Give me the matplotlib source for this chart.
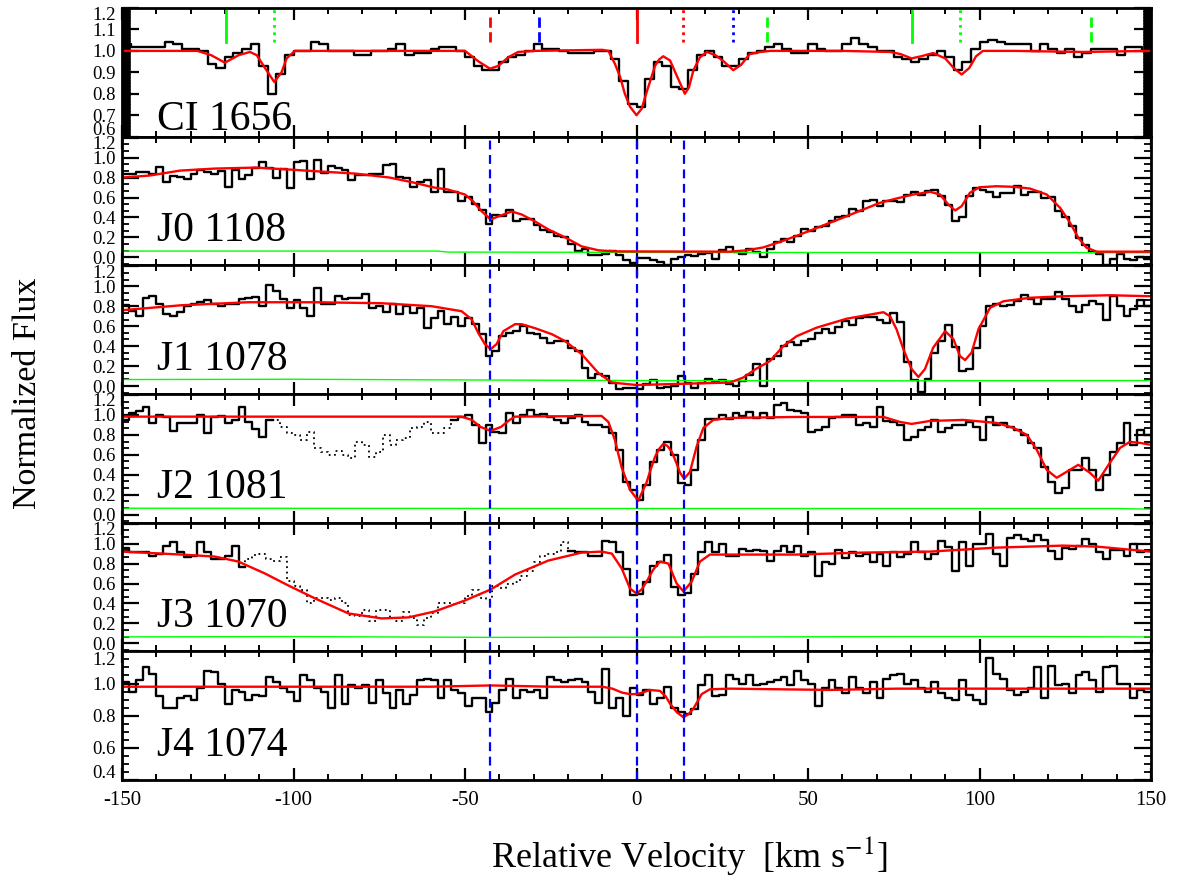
import numpy as np
import matplotlib
matplotlib.use('Agg')
import matplotlib.pyplot as plt
from matplotlib.ticker import MultipleLocator, AutoMinorLocator
from matplotlib.transforms import offset_copy

plt.rcParams['font.family'] = 'Liberation Serif'
plt.rcParams['mathtext.fontset'] = 'stix'
plt.rcParams['axes.unicode_minus'] = False

# velocity bin edges (km/s)
ci_edges = np.arange(-150, 150.01, 2.5)
h2_edges = np.arange(-150, 150.01, 2.0)

# ---- CI 1656 ----
ci_flux = [1.03, 1.02, 1.02, 1.02, 1.02, 1.04, 1.03, 1.01, 1.01, 1.00,
           0.94, 0.92, 0.97, 0.99, 1.01, 1.03, 0.93, 0.80, 0.89, 0.98,
           1.00, 1.00, 1.04, 1.03, 1.00, 1.00, 1.00, 0.98, 0.98, 1.00,
           1.00, 1.01, 1.03, 0.98, 0.99, 0.99, 1.01, 1.02, 1.02, 1.00,
           0.97, 0.93, 0.91, 0.91, 0.95, 0.97, 0.98, 1.00, 1.03, 1.01,
           1.01, 1.00, 0.99, 0.99, 0.99, 1.00, 1.00, 0.96, 0.86, 0.75,
           0.74, 0.87, 0.95, 0.93, 0.83, 0.82, 0.91, 0.98, 1.00, 0.97,
           0.93, 0.93, 0.96, 0.99, 1.00, 1.02, 1.03, 1.01, 0.99, 0.99,
           1.03, 1.01, 1.00, 1.00, 1.03, 1.06, 1.03, 1.02, 1.00, 1.00,
           0.97, 0.96, 0.95, 0.96, 0.98, 1.00, 0.97, 0.91, 0.95, 1.01,
           1.04, 1.05, 1.04, 1.03, 1.03, 1.03, 1.00, 1.03, 1.01, 0.99,
           1.01, 0.97, 0.99, 1.01, 1.01, 1.01, 0.98, 1.02, 1.02, 1.00]
ci_model_v = [-150, -128, -124, -120, -116, -112.7, -110.7, -108.3, -105.6, -103.5,
              -102, -99.6, -50, -46, -42.7, -40.3, -37.4, -34.5, -29.6, -10,
              -8.2, -6.3, -4.8, -3.4, -1.9, 0, 1.5, 3, 4.2, 5.4,
              6.6, 7.8, 9.8, 11.3, 12.7, 14.1, 15.3, 16.6, 18.5, 20.5,
              23, 25.5, 28.2, 30.5, 33, 36, 39, 60, 74, 77,
              80.2, 83, 86.5, 90, 92.5, 94.8, 97, 99, 101, 110,
              130, 150]
ci_model_f = [1.0, 1.0, 0.98, 0.945, 0.98, 0.995, 0.98, 0.92, 0.855, 0.90,
              0.965, 1.0, 1.0, 0.95, 0.917, 0.93, 0.97, 0.995, 1.0, 1.005,
              1.0, 0.94, 0.88, 0.80, 0.74, 0.70, 0.73, 0.81, 0.87, 0.93,
              0.96, 0.975, 0.955, 0.90, 0.85, 0.80, 0.83, 0.91, 0.97, 0.995,
              0.98, 0.95, 0.91, 0.935, 0.985, 0.995, 1.0, 1.0, 0.995, 0.985,
              0.965, 0.975, 0.99, 0.965, 0.92, 0.89, 0.92, 0.975, 1.0, 1.0,
              0.995, 1.0]
# component markers above the CI spectrum
ci_mark_v = [-119.7, -105.7, -42.7, -28.3, 0.0, 13.7, 28.0, 38.1, 80.4, 94.3, 132.5]
ci_mark_c = ['#00ff00', '#00ff00', '#ff0000', '#0000ff', '#ff0000', '#ff0000',
             '#0000ff', '#00ff00', '#00ff00', '#00ff00', '#00ff00']
ci_mark_ls = ['-', ':', '--', '--', '-', ':', ':', '--', '-', ':', '--']

# ---- H2 J0 1108 ----
j0_flux = [0.84, 0.84, 0.86, 0.86, 0.84, 0.91, 0.76, 0.82, 0.81, 0.79,
           0.84, 0.88, 0.86, 0.84, 0.87, 0.71, 0.88, 0.79, 0.83, 0.90,
           0.96, 0.90, 0.80, 0.89, 0.70, 0.96, 0.97, 0.79, 0.98, 0.85,
           0.92, 0.90, 0.88, 0.78, 0.83, 0.83, 0.84, 0.84, 0.93, 0.94,
           0.81, 0.80, 0.71, 0.76, 0.78, 0.66, 0.89, 0.66, 0.66, 0.56,
           0.61, 0.53, 0.47, 0.33, 0.42, 0.41, 0.47, 0.36, 0.38, 0.38,
           0.32, 0.27, 0.25, 0.21, 0.20, 0.13, 0.06, 0.08, 0.02, 0.02,
           0.03, 0.06, 0.02, -0.03, -0.06,
           -0.01, -0.01, -0.03, -0.05, -0.08, -0.02, 0.00, 0.02, 0.01, 0.03,
           0.04, -0.02, 0.07, 0.10, 0.05, 0.03, 0.08, 0.05, 0.00, 0.08,
           0.15, 0.18, 0.15, 0.21, 0.28, 0.26, 0.30, 0.31, 0.36, 0.40,
           0.41, 0.48, 0.46, 0.56, 0.58, 0.51, 0.56, 0.56, 0.55, 0.63,
           0.66, 0.63, 0.67, 0.68, 0.62, 0.52, 0.36, 0.40, 0.62, 0.70,
           0.68, 0.66, 0.61, 0.65, 0.65, 0.72, 0.63, 0.66, 0.66, 0.60,
           0.61, 0.46, 0.40, 0.31, 0.19, 0.12, 0.05, 0.03, -0.08, -0.02,
           0.03, -0.02, -0.03, 0.00, -0.02]
j0_model_v = [-150, -142, -133, -123, -111, -101, -92, -82, -72, -65,
              -59, -55, -50, -47.6, -45.1, -42.5, -40.3, -36.4, -33.5, -29.6,
              -25.7, -20.8, -16, -11, -6, 27, 32, 37, 42, 47,
              51.5, 56.4, 61.3, 66.1, 71, 75.8, 80.7, 85.6, 88.5, 90.9,
              92.9, 94.8, 97.2, 100, 105, 110, 114.7, 119.6, 123.5, 126.4,
              128.8, 131.2, 134.2, 150]
j0_model_f = [0.80, 0.82, 0.87, 0.89, 0.90, 0.88, 0.86, 0.84, 0.80, 0.75,
              0.70, 0.68, 0.63, 0.56, 0.46, 0.38, 0.41, 0.46, 0.43, 0.36,
              0.28, 0.20, 0.11, 0.07, 0.06, 0.057, 0.07, 0.10, 0.157, 0.22,
              0.28, 0.347, 0.413, 0.48, 0.547, 0.59, 0.63, 0.657, 0.63, 0.53,
              0.47, 0.513, 0.647, 0.703, 0.713, 0.707, 0.69, 0.63, 0.497, 0.347,
              0.197, 0.097, 0.057, 0.057]
j0_err_v = [-150, -58, -55, 0, 150]
j0_err_f = [0.063, 0.063, 0.053, 0.05, 0.047]

# ---- H2 J1 1078 ----
j1_flux = [0.81, 0.75, 0.70, 0.88, 0.90, 0.82, 0.72, 0.70, 0.74, 0.80,
           0.82, 0.84, 0.86, 0.82, 0.80, 0.82, 0.82, 0.87, 0.88, 0.89,
           0.80, 1.01, 0.95, 0.87, 0.78, 0.86, 0.78, 0.70, 0.985, 0.82,
           0.82, 0.90, 0.875, 0.885, 0.885, 0.92, 0.78, 0.80, 0.74, 0.82,
           0.72, 0.80, 0.735, 0.78, 0.585, 0.685, 0.75, 0.62, 0.695, 0.60,
           0.685, 0.62, 0.52, 0.30, 0.35, 0.50, 0.535, 0.55, 0.60, 0.535,
           0.52, 0.485, 0.435, 0.45, 0.45, 0.385, 0.35, 0.185, 0.085, 0.12,
           0.10, 0.035, -0.025, -0.015, -0.015,
           -0.025, 0.02, 0.06, -0.015, -0.005, 0.00, 0.10, 0.03, -0.02, 0.03,
           0.07, 0.05, 0.06, 0.02, 0.00, 0.05, 0.11, 0.22, 0.00, 0.27,
           0.30, 0.40, 0.44, 0.41, 0.45, 0.47, 0.53, 0.57, 0.53, 0.59,
           0.65, 0.61, 0.68, 0.69, 0.69, 0.66, 0.63, 0.73, 0.64, 0.24,
           0.06, -0.06, 0.07, 0.33, 0.45, 0.61, 0.39, 0.15, 0.17, 0.38,
           0.60, 0.80, 0.82, 0.80, 0.81, 0.85, 0.91, 0.87, 0.82, 0.875,
           0.875, 0.94, 0.87, 0.80, 0.74, 0.81, 0.85, 0.82, 0.66, 0.90,
           0.80, 0.70, 0.77, 0.86, 0.80]
j1_model_v = [-150, -132.6, -113.2, -93.7, -74.3, -59.7, -51, -48.1, -46.1, -44.2,
              -42.5, -40.8, -38.8, -35.4, -33.5, -29.6, -24.7, -20.8, -16, -11.1,
              -7.2, 0, 27.3, 31.1, 35, 38.9, 42.8, 46.7, 52.5, 61.3,
              72, 73.9, 75.8, 77.8, 80.2, 82.2, 84.1, 86.5, 90, 92.4,
              94.3, 95.8, 97.7, 99.7, 103.1, 107, 114.8, 124.5, 138, 150]
j1_model_f = [0.76, 0.81, 0.84, 0.84, 0.83, 0.80, 0.75, 0.67, 0.53, 0.42,
              0.37, 0.42, 0.55, 0.62, 0.62, 0.58, 0.52, 0.45, 0.32, 0.13,
              0.035, 0.01, 0.035, 0.085, 0.175, 0.25, 0.40, 0.50, 0.585, 0.675,
              0.74, 0.70, 0.57, 0.37, 0.17, 0.09, 0.17, 0.385, 0.55, 0.47,
              0.30, 0.26, 0.335, 0.57, 0.785, 0.85, 0.885, 0.90, 0.91, 0.90]
j1_err_v = [-150, -100, -60, 0, 60, 150]
j1_err_f = [0.065, 0.068, 0.062, 0.055, 0.052, 0.055]

# ---- H2 J2 1081 ----
j2_flux = [0.95, 1.02, 1.04, 1.08, 0.92, 1.00, 0.98, 0.84, 0.92, 0.92,
           0.92, 1.00, 0.82, 0.98, 0.99, 0.92, 0.95, 1.08, 0.93, 0.86,
           0.78, 0.95, 0.95, 0.88, 0.82, 0.80, 0.75, 0.83, 0.67, 0.63,
           0.60, 0.64, 0.60, 0.57, 0.73, 0.70, 0.58, 0.63, 0.80, 0.70,
           0.75, 0.77, 0.87, 0.88, 0.93, 0.82, 0.82, 0.87, 0.95, 0.98,
           1.00, 0.90, 0.72, 0.90, 0.83, 0.82, 1.02, 0.92, 1.00, 1.05,
           1.00, 1.01, 0.98, 0.95, 0.92, 0.97, 1.00, 0.93, 0.90, 0.90,
           0.88, 0.82, 0.65, 0.33, 0.25,
           0.15, 0.30, 0.53, 0.65, 0.73, 0.60, 0.32, 0.30, 0.45, 0.75,
           0.96, 0.96, 1.00, 0.96, 1.02, 0.99, 1.03, 0.97, 1.02, 0.97,
           1.10, 1.12, 1.05, 1.04, 1.02, 0.83, 0.85, 0.88, 0.97, 0.98,
           1.00, 1.00, 0.90, 0.92, 0.88, 1.08, 0.94, 0.93, 0.90, 0.75,
           0.78, 0.85, 0.88, 0.95, 0.83, 0.87, 0.90, 0.90, 0.93, 0.88,
           0.75, 0.98, 0.90, 0.92, 0.88, 0.85, 0.80, 0.72, 0.67, 0.48,
           0.33, 0.22, 0.27, 0.45, 0.45, 0.57, 0.45, 0.25, 0.40, 0.63,
           0.72, 0.92, 0.70, 0.85, 0.80]
j2_model_v = [-150, -51, -48, -45.5, -42.5, -39.5, -37, -35.4, -10.2, -8.2,
              -6.3, -4.3, -1.9, 0.5, 2.9, 4.2, 5.4, 6.6, 7.8, 9,
              10.3, 11.5, 12.7, 13.9, 15.6, 17.5, 19.5, 22.4, 27.3, 46.7,
              72, 76.8, 80.2, 85.6, 95.3, 105, 109.9, 113.8, 116.7, 119.6,
              122.5, 125.4, 128.8, 132.2, 134.6, 138, 141, 143.8, 146.8, 150]
j2_model_f = [0.983, 0.983, 0.95, 0.88, 0.84, 0.88, 0.95, 0.983, 0.99, 0.93,
              0.75, 0.47, 0.25, 0.14, 0.32, 0.46, 0.58, 0.66, 0.71, 0.69,
              0.63, 0.53, 0.42, 0.36, 0.43, 0.68, 0.87, 0.95, 0.97, 0.98,
              0.98, 0.93, 0.91, 0.94, 0.95, 0.92, 0.87, 0.80, 0.65, 0.45,
              0.37, 0.43, 0.50, 0.42, 0.34, 0.52, 0.67, 0.73, 0.72, 0.70]
j2_err_v = [-150, 0, 140, 150]
j2_err_f = [0.065, 0.062, 0.062, 0.055]

# ---- H2 J3 1070 ----
j3_flux = [0.96, 0.92, 0.92, 0.92, 0.88, 0.90, 0.98, 1.02, 0.92, 0.87,
           0.88, 1.02, 0.92, 0.85, 0.85, 0.88, 0.98, 0.77, 0.85, 0.89,
           0.90, 0.85, 0.83, 0.87, 0.63, 0.58, 0.53, 0.40, 0.45, 0.45,
           0.43, 0.45, 0.40, 0.28, 0.27, 0.33, 0.22, 0.33, 0.33, 0.25,
           0.22, 0.31, 0.25, 0.18, 0.25, 0.30, 0.40, 0.40, 0.39, 0.40,
           0.47, 0.53, 0.45, 0.43, 0.58, 0.55, 0.60, 0.62, 0.68, 0.73,
           0.82, 0.88, 0.90, 0.92, 1.02, 0.93, 0.92, 0.92, 0.88, 0.88,
           1.03, 1.02, 0.92, 0.75, 0.48,
           0.49, 0.62, 0.78, 0.82, 0.89, 0.57, 0.48, 0.50, 0.70, 0.92,
           1.02, 0.92, 1.00, 0.88, 0.88, 0.95, 0.93, 0.94, 0.93, 0.83,
           0.93, 0.98, 0.92, 0.98, 0.88, 0.92, 0.68, 0.82, 0.80, 0.94,
           0.86, 0.92, 0.88, 0.90, 0.82, 0.90, 0.78, 0.92, 0.87, 0.90,
           1.02, 0.92, 0.85, 0.90, 1.03, 0.97, 0.73, 1.02, 0.78, 1.00,
           1.00, 1.10, 0.90, 0.78, 1.06, 1.09, 1.05, 1.03, 1.09, 1.04,
           0.93, 0.85, 0.96, 0.95, 0.98, 1.05, 1.00, 0.92, 0.85, 0.94,
           0.94, 0.88, 1.00, 0.92, 0.93]
j3_model_v = [-150, -132.6, -122.9, -116.1, -108.3, -101.5, -93.7, -84, -74.3, -66.5,
              -58.8, -50, -42.5, -35.4, -25.7, -16, -10.2, -7.2, -4.3, -1.9,
              0, 1.5, 2.96, 4.9, 6.85, 9.3, 11.7, 13.7, 16.1, 18.5,
              21.4, 27.3, 46.7, 66.1, 85.6, 105, 124.4, 134.2, 146.8, 150]
j3_model_f = [0.92, 0.89, 0.87, 0.82, 0.70, 0.58, 0.45, 0.30, 0.25, 0.26,
              0.32, 0.43, 0.54, 0.69, 0.83, 0.91, 0.92, 0.90, 0.75, 0.55,
              0.50, 0.54, 0.62, 0.74, 0.82, 0.80, 0.60, 0.52, 0.62, 0.82,
              0.89, 0.89, 0.89, 0.91, 0.92, 0.96, 0.98, 0.97, 0.93, 0.92]
j3_err_v = [-150, -100, -42, 0, 80, 115, 150]
j3_err_f = [0.065, 0.068, 0.060, 0.062, 0.068, 0.068, 0.064]

# ---- H2 J4 1074 ----
j4_flux = [1.01, 0.95, 1.02, 1.10, 1.06, 0.92, 0.85, 0.85, 0.91, 0.92,
           0.90, 0.97, 1.08, 1.07, 1.00, 0.87, 0.96, 0.95, 0.90, 0.93,
           0.92, 1.04, 1.01, 0.97, 0.95, 0.89, 1.05, 1.02, 0.97, 0.95,
           0.85, 1.05, 0.87, 0.99, 0.97, 0.99, 0.88, 1.02, 0.94, 0.85,
           0.96, 0.87, 0.93, 1.02, 1.03, 1.02, 0.91, 1.02, 0.96, 0.94,
           0.86, 0.91, 0.91, 0.82, 0.88, 0.96, 1.03, 0.91, 0.96, 0.95,
           0.96, 0.91, 1.04, 1.02, 1.01, 1.02, 1.03, 1.01, 0.95, 0.88,
           1.09, 0.85, 0.91, 0.80, 0.97,
           0.93, 0.96, 0.87, 0.91, 0.98, 0.85, 0.82, 0.81, 0.84, 0.99,
           1.05, 0.92, 0.93, 1.05, 1.03, 1.00, 1.05, 0.99, 1.00, 1.01,
           1.02, 1.04, 0.99, 1.08, 1.02, 1.00, 0.86, 0.97, 1.02, 0.97,
           0.94, 1.04, 0.97, 0.94, 1.01, 0.91, 1.03, 1.05, 1.06, 1.00,
           1.02, 0.97, 0.95, 1.01, 0.94, 0.91, 0.90, 1.02, 0.93, 0.90,
           0.87, 1.16, 1.06, 1.03, 0.96, 0.93, 0.95, 0.97, 1.10, 0.91,
           1.11, 0.99, 1.00, 0.94, 1.05, 1.07, 1.02, 0.95, 1.10, 1.11,
           1.00, 1.00, 0.91, 0.96, 0.95]
j4_model_v = [-150, -60, -42.5, -25, -10, -7, -4.3, -1.9, 0, 2,
              3.9, 6.85, 8.5, 9.8, 11.8, 13.7, 15.2, 16.6, 19, 21.4,
              27.3, 56.4, 75.9, 150]
j4_model_f = [0.98, 0.98, 0.988, 0.98, 0.98, 0.968, 0.944, 0.934, 0.934, 0.945,
              0.96, 0.954, 0.92, 0.874, 0.82, 0.79, 0.81, 0.844, 0.934, 0.964,
              0.968, 0.96, 0.968, 0.968]

# velocity components marked through the H2 panels
comp_v = [-42.6, 0.0, 13.8]

h2_ticks = [0.0, 0.2, 0.4, 0.6, 0.8, 1.0, 1.2]
# edge_shift: pixels to pull the top / bottom y label inside the panel
panels = [
    dict(label='CI 1656', edges=ci_edges, flux=ci_flux, mv=ci_model_v, mf=ci_model_f,
         ev=None, ef=None, ylim=(0.6, 1.2), yticks=[0.6, 0.7, 0.8, 0.9, 1.0, 1.1, 1.2],
         dotted=None, edge_shift=(6, 8)),
    dict(label='J0 1108', edges=h2_edges, flux=j0_flux, mv=j0_model_v, mf=j0_model_f,
         ev=j0_err_v, ef=j0_err_f, ylim=(-0.08, 1.21), yticks=h2_ticks, dotted=None,
         edge_shift=(5, 0)),
    dict(label='J1 1078', edges=h2_edges, flux=j1_flux, mv=j1_model_v, mf=j1_model_f,
         ev=j1_err_v, ef=j1_err_f, ylim=(-0.08, 1.21), yticks=h2_ticks, dotted=None,
         edge_shift=(5, 0)),
    dict(label='J2 1081', edges=h2_edges, flux=j2_flux, mv=j2_model_v, mf=j2_model_f,
         ev=j2_err_v, ef=j2_err_f, ylim=(-0.08, 1.21), yticks=h2_ticks, dotted=(-106, -54),
         edge_shift=(5, 0)),
    dict(label='J3 1070', edges=h2_edges, flux=j3_flux, mv=j3_model_v, mf=j3_model_f,
         ev=j3_err_v, ef=j3_err_f, ylim=(-0.08, 1.21), yticks=h2_ticks, dotted=(-114, -20),
         edge_shift=(5, 0)),
    dict(label='J4 1074', edges=h2_edges, flux=j4_flux, mv=j4_model_v, mf=j4_model_f,
         ev=None, ef=None, ylim=(0.4, 1.2), yticks=[0.4, 0.6, 0.8, 1.0, 1.2], dotted=None,
         edge_shift=(7, 8)),
]


def draw_spectrum(ax, edges, flux, dotted):
    y = np.append(np.asarray(flux, float), flux[-1])
    if dotted is None:
        ax.step(edges, y, where='post', color='k', lw=1.7)
        return
    lo, hi = dotted
    inside = (edges >= lo) & (edges < hi)
    solid = y.copy()
    solid[inside] = np.nan
    # one extra bin either side so the dotted part joins the solid part
    idx = np.where(inside)[0]
    near = np.zeros_like(inside)
    near[max(idx[0] - 1, 0):idx[-1] + 2] = True
    dots = np.where(near, y, np.nan)
    ax.step(edges, solid, where='post', color='k', lw=1.7)
    ax.step(edges, dots, where='post', color='k', lw=1.3, ls=(0, (1, 2)))


fig = plt.figure(figsize=(11.77, 8.84), dpi=100)
left, width = 122 / 1177, 1029 / 1177
top_px, panel_px = 8, 772 / 6

for i, p in enumerate(panels):
    bottom = 1 - (top_px + (i + 1) * panel_px) / 884
    ax = fig.add_axes([left, bottom, width, panel_px / 884])

    draw_spectrum(ax, p['edges'], p['flux'], p['dotted'])
    if p['ev'] is not None:
        ax.plot(p['ev'], p['ef'], color='#00ff00', lw=1.0)
    ax.plot(p['mv'], p['mf'], color='#ff0000', lw=1.7)

    if i == 0:
        for v, c, ls in zip(ci_mark_v, ci_mark_c, ci_mark_ls):
            y1 = 1.162 if ls == '--' else 1.198
            ax.plot([v, v], [1.042, y1], color=c, ls=ls, lw=2.0)
    else:
        for v in comp_v:
            ax.axvline(v, color='#0000ff', ls=(0, (4, 2.5)), lw=1.6)

    ax.set_xlim(-150, 150)
    ax.set_ylim(*p['ylim'])
    ax.xaxis.set_major_locator(MultipleLocator(50))
    ax.xaxis.set_minor_locator(MultipleLocator(10))
    ax.set_yticks(p['yticks'])
    if i == 0:
        ax.yaxis.set_minor_locator(MultipleLocator(0.002))
    elif i == 5:
        ax.yaxis.set_minor_locator(AutoMinorLocator(4))
    else:
        ax.yaxis.set_minor_locator(AutoMinorLocator(3))

    ax.tick_params(which='both', direction='in', top=True, right=True,
                   labelbottom=(i == 5), labelleft=False, labelsize=15, color='k')
    ax.tick_params(axis='x', which='major', length=8.5, width=1.6, pad=8)
    ax.tick_params(axis='x', which='minor', length=4.5, width=1.4)
    ax.tick_params(axis='y', which='major', length=12, width=1.6)
    if i == 0:
        ax.tick_params(axis='y', which='minor', length=6, width=0.8)
    else:
        ax.tick_params(axis='y', which='minor', length=5, width=1.3)
    for s in ax.spines.values():
        s.set_linewidth(2.0)

    # y labels: a value sitting right on the panel edge is pulled a few pixels inside
    lo, hi = p['ylim']
    top_shift, bot_shift = p['edge_shift']
    ytr = ax.get_yaxis_transform()
    for t in p['yticks']:
        frac = (t - lo) / (hi - lo)
        shift = 0
        if frac * panel_px < 6:
            shift = bot_shift
        elif (1 - frac) * panel_px < 6:
            shift = -top_shift
        tr = offset_copy(ytr, fig=fig, x=0, y=shift, units='dots')
        ax.text(-0.006, t, f'{t:.1f}', transform=tr, ha='right',
                va='center_baseline', fontsize=13.5)

    ybase = 0.05 if i == 0 else 0.19
    ax.text(0.034, ybase, p['label'], transform=ax.transAxes, fontsize=30,
            va='baseline', ha='left')

fig.text(0.024, 0.555, 'Normalized Flux', rotation=90, fontsize=24.5,
         ha='center', va='center')
fig.text(0.586, 0.032, r'Relative Velocity  [km s$^{-1}$]', fontsize=26,
         ha='center', va='center')

fig.savefig('out.png', dpi=100)
